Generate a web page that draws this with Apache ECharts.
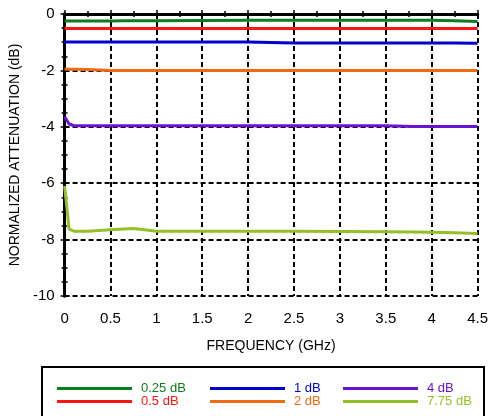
<!DOCTYPE html>
<html><head><meta charset="utf-8">
<script src="https://cdn.jsdelivr.net/npm/echarts@6/dist/echarts.min.js"></script>
<style>html,body{margin:0;padding:0;background:#fff}#c{width:491px;height:416px}</style>
</head><body><div id="c"></div>
<script>
const freq = [0, 0.05, 0.1, 0.25, 0.5, 0.65, 0.75, 0.85, 1, 1.5, 2, 2.5, 3, 3.5, 3.8, 4, 4.25, 4.5];
const s025 = [-0.25,-0.25,-0.25,-0.25,-0.25,-0.24,-0.24,-0.24,-0.24,-0.23,-0.22,-0.22,-0.22,-0.22,-0.22,-0.22,-0.24,-0.27];
const s05  = [-0.51,-0.51,-0.51,-0.51,-0.51,-0.51,-0.51,-0.51,-0.51,-0.51,-0.51,-0.51,-0.51,-0.51,-0.51,-0.51,-0.51,-0.51];
const s1   = [-0.99,-0.99,-0.99,-0.99,-0.99,-0.99,-0.99,-0.99,-0.99,-0.99,-0.99,-1.03,-1.03,-1.03,-1.03,-1.03,-1.03,-1.04];
const s2   = [-1.95,-1.96,-1.96,-1.97,-2.0,-2.0,-2.0,-2.0,-2.0,-2.0,-2.0,-2.0,-2.0,-2.0,-2.0,-2.0,-2.0,-2.0];
const s4   = [-3.65,-3.9,-3.96,-3.96,-3.96,-3.96,-3.96,-3.96,-3.96,-3.96,-3.96,-3.96,-3.96,-3.96,-3.99,-3.99,-3.99,-3.99];
const s775 = [-6.1,-7.63,-7.7,-7.7,-7.65,-7.62,-7.61,-7.64,-7.7,-7.7,-7.7,-7.7,-7.71,-7.72,-7.73,-7.74,-7.76,-7.78];
const names = ['0.25 dB','0.5 dB','1 dB','2 dB','4 dB','7.75 dB'];
const colors = ['#0b7d1c','#ff1414','#0000cc','#f06a14','#6a14d2','#96be28'];
const xTicks = [0,0.5,1,1.5,2,2.5,3,3.5,4,4.5];
const yTicks = [0,-2,-4,-6,-8,-10];

const all = [s025,s05,s1,s2,s4,s775];
const chart = echarts.init(document.getElementById('c'));
const FONT = 'Liberation Sans';
const dashed = {show:true, lineStyle:{color:'#000', type:[5,3], width:2}};
const legendCol = (left, a, b) => ({
  orient:'vertical', left:left, top:382, padding:0, itemGap:0,
  itemWidth:75, itemHeight:3, icon:'rect',
  textStyle:{fontFamily:FONT, fontSize:13, lineHeight:13, padding:[0,0,0,4]},
  data:[{name:names[a], textStyle:{color:colors[a]}},{name:names[b], textStyle:{color:colors[b]}}]
});
chart.setOption({
  animation:false,
  grid:{left:64, right:10, top:14, bottom:120},
  xAxis:[{
    type:'value', min:0, max:4.5, interval:0.5,
    axisLine:{show:true, lineStyle:{color:'#000', width:3}},
    axisTick:{show:true, inside:true, length:4, lineStyle:{color:'#000', width:1.5}},
    minorTick:{show:true, splitNumber:2, length:3, lineStyle:{color:'#000', width:1.5}},
    axisLabel:{fontFamily:FONT, fontSize:15, color:'#000', margin:15,
      formatter:v=>xTicks.indexOf(v)>=0?String(v):''},
    splitLine:dashed,
    name:'FREQUENCY (GHz)', nameLocation:'middle', nameGap:43,
    nameTextStyle:{fontFamily:FONT, fontSize:14, color:'#000'}
  },{
    type:'value', min:0, max:4.5, interval:0.5, position:'top',
    axisLine:{show:true, lineStyle:{color:'#000', width:3}},
    axisTick:{show:true, inside:true, length:4, lineStyle:{color:'#000', width:1.5}},
    minorTick:{show:true, splitNumber:2, length:3, lineStyle:{color:'#000', width:1.5}},
    axisLabel:{show:false}, splitLine:{show:false}
  }],
  yAxis:[{
    type:'value', min:-10, max:0, interval:2,
    axisLine:{show:true, lineStyle:{color:'#000', width:3}},
    axisTick:{show:true, inside:true, length:4, lineStyle:{color:'#000', width:1.5}},
    minorTick:{show:true, splitNumber:4, length:3, lineStyle:{color:'#000', width:1.5}},
    axisLabel:{fontFamily:FONT, fontSize:15, color:'#000', margin:10,
      formatter:v=>yTicks.indexOf(v)>=0?String(v):''},
    splitLine:dashed,
    name:'NORMALIZED ATTENUATION (dB)', nameLocation:'middle', nameGap:38,
    nameTextStyle:{fontFamily:FONT, fontSize:14, color:'#000'}
  },{
    type:'value', min:-10, max:0, interval:2, position:'right',
    axisLine:{show:true, lineStyle:{color:'#000', width:3}},
    axisTick:{show:true, inside:true, length:4, lineStyle:{color:'#000', width:1.5}},
    minorTick:{show:true, splitNumber:4, length:3, lineStyle:{color:'#000', width:1.5}},
    axisLabel:{show:false}, splitLine:{show:false}
  }],
  legend:[legendCol(57,0,1), legendCol(210,2,3), legendCol(343,4,5)],
  graphic:[{type:'rect', shape:{x:42, y:367, width:442, height:70},
    style:{fill:'none', stroke:'#000', lineWidth:2}, silent:true}],
  series: all.map((arr,i)=>({
    type:'line', name:names[i], symbol:'none', color:colors[i],
    lineStyle:{color:colors[i], width:3},
    data: freq.map((f,j)=>[f, arr[j]])
  }))
});
</script></body></html>
